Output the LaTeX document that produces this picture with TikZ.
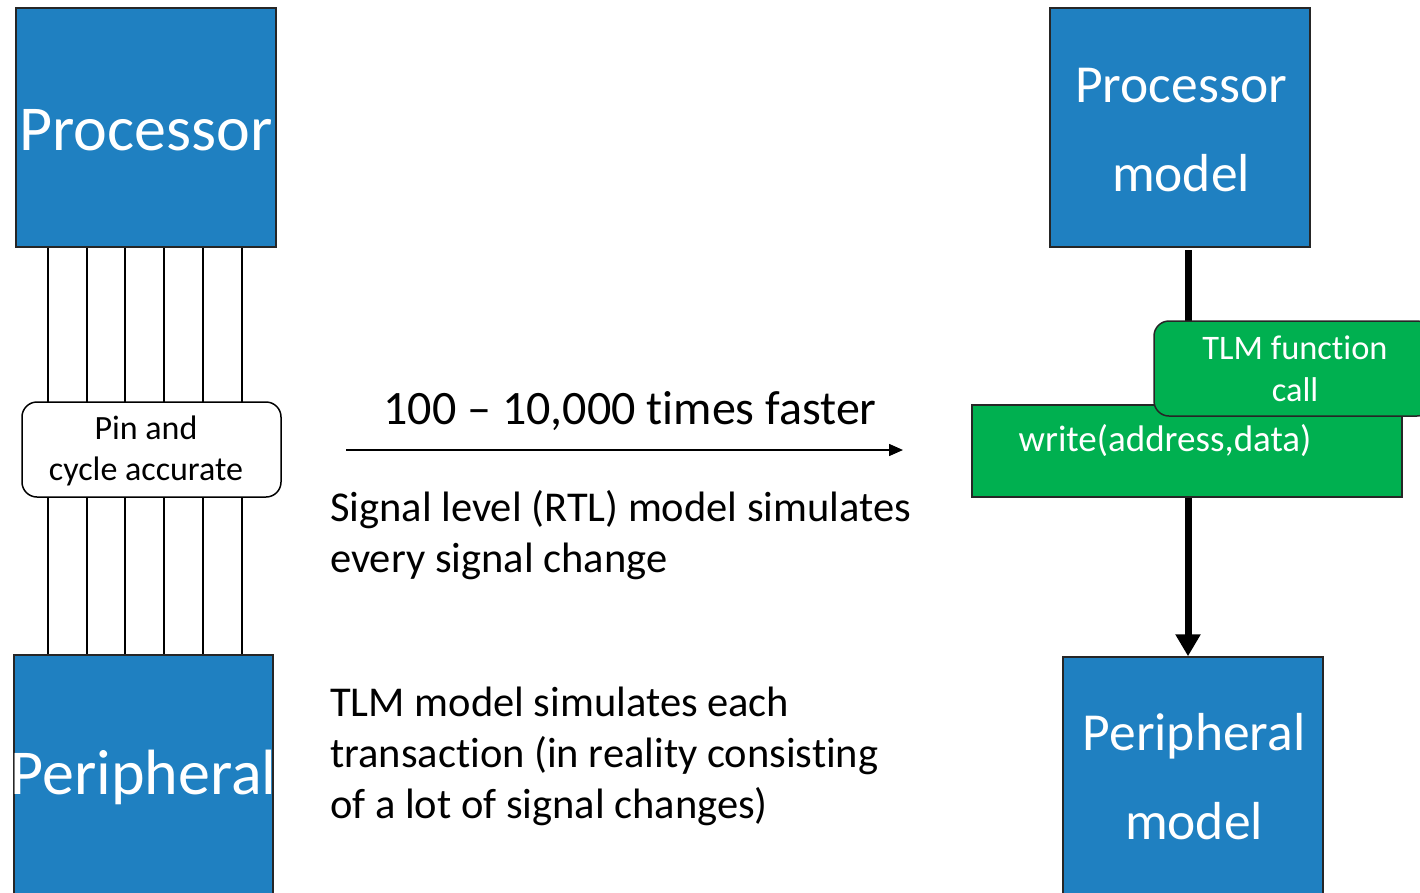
\documentclass[tikz,border=0pt]{standalone}
\usepackage{fontspec}
\setmainfont{Carlito}[Ligatures=NoCommon]
\usetikzlibrary{arrows.meta}
\definecolor{boxblue}{RGB}{31,128,193}
\definecolor{tlmgreen}{RGB}{0,176,80}
\begin{document}
\begin{tikzpicture}[x=1pt,y=-1pt,
  bluebox/.style={draw=black!85, line width=1.5pt, fill=boxblue, text=white, inner sep=0pt, align=center},
  greenbox/.style={draw=black!85, line width=1.5pt, fill=tlmgreen, text=white, inner sep=0pt, align=center},
  wire/.style={draw=black, line width=1.4pt},
  bodytext/.style={anchor=north west, inner sep=0pt, align=left, font=\fontsize{42.5}{51}\selectfont}
]
\useasboundingbox (0,0) rectangle (1420,892);
\clip (0,0) rectangle (1420,892);
% left side
\node[bluebox, minimum width=260pt, minimum height=239pt] (procL) at (146,127.5) {};
\node[text=white, inner sep=0pt, font=\fontsize{64}{70}\selectfont] (procLt) at (146,130) {Processor};
\node[bluebox, minimum width=259pt, minimum height=245pt] (perL) at (143.5,777.5) {};
\node[text=white, inner sep=0pt, font=\fontsize{64}{70}\selectfont] (perLt) at (143.5,777) {Peripheral};
\foreach \x [count=\i] in {48,87,125,164,203,242} {
  \coordinate (w\i) at (\x,250);
  \draw[wire] (w\i |- procL.south) -- (w\i |- perL.north);
}
\node[draw=black, line width=1.5pt, fill=white, rounded corners=15pt, minimum width=259pt, minimum height=95pt, inner sep=0pt] (pin) at (151.5,449.5) {};
\node[align=center, inner sep=0pt, font=\fontsize{34}{41}\selectfont] (pint) at (146,451) {Pin and\\cycle accurate};
% middle
\coordinate (arA) at (346,450);
\coordinate (arB) at (903,450);
\draw[line width=1.5pt, -{Triangle[length=14pt,width=12pt]}] (arA) -- (arB);
\node[inner sep=0pt, font=\fontsize{48}{50}\selectfont] (speed) at (630,411) {100 – 10,000 times faster};
\node[bodytext] (sig) at (330,490) {Signal level (RTL) model simulates\\every signal change};
\node[bodytext] (tlm) at (330,687) {TLM model simulates each\\transaction (in reality consisting\\of a lot of signal changes)};
% right side
\node[bluebox, minimum width=260pt, minimum height=239pt] (pm) at (1180,127.5) {};
\node[text=white, align=center, inner sep=0pt, font=\fontsize{53.5}{89}\selectfont] (pmt) at (1181,130.5) {Processor\\model};
\node[bluebox, minimum width=260pt, minimum height=241pt] (perm) at (1193,777.5) {};
\node[text=white, align=center, inner sep=0pt, font=\fontsize{53.5}{89}\selectfont] (permt) at (1194,777) {Peripheral\\model};
\coordinate (tA) at (1188,250);
\draw[line width=7pt, -{Triangle[length=22pt,width=24pt]}] (tA) -- (tA |- perm.north);
\node[greenbox, minimum width=430pt, minimum height=92pt] (wr) at (1187,451) {};
\node[text=white, inner sep=0pt, font=\fontsize{37}{40}\selectfont] (wrt) at (1165,441) {write(address,data)};
\node[greenbox, rounded corners=15pt, minimum width=278pt, minimum height=95pt] (tlmc) at (1293,368.5) {};
\node[text=white, align=center, inner sep=0pt, font=\fontsize{34.4}{42}\selectfont] (tlmct) at (1295,369) {TLM function\\call};
\end{tikzpicture}
\end{document}
